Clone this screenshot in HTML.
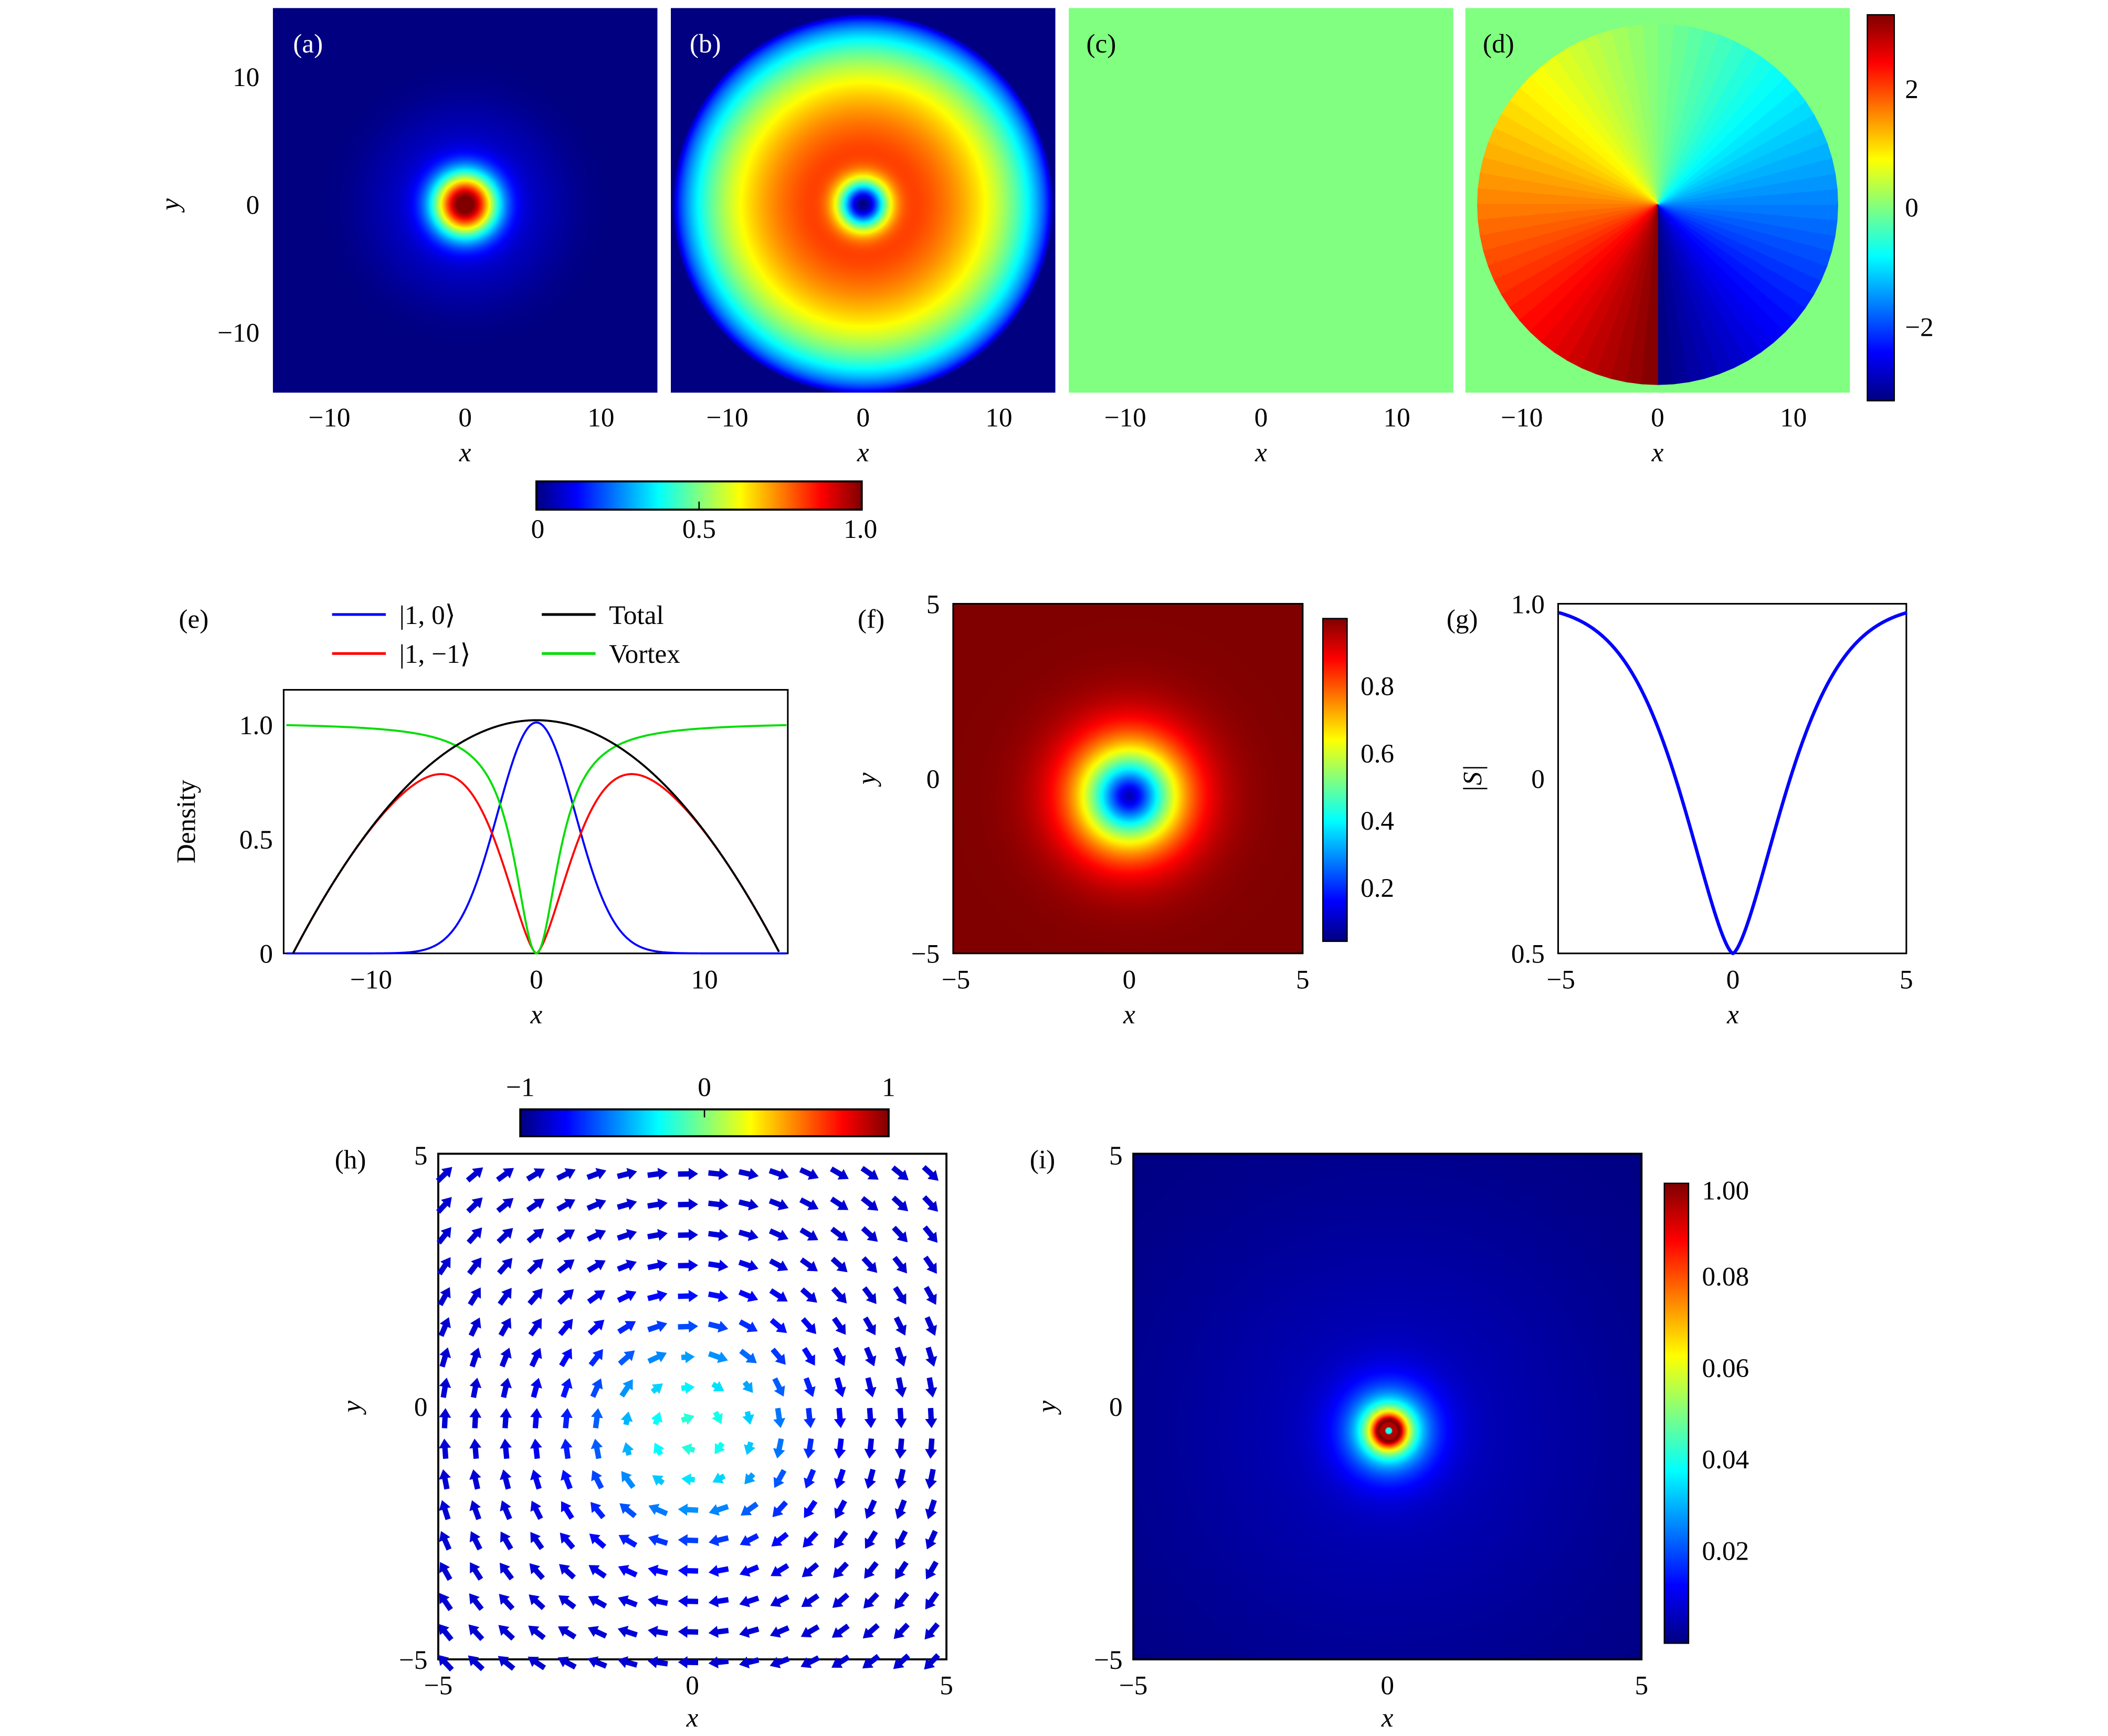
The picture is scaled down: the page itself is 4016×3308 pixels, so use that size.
<!DOCTYPE html>
<html><head><meta charset="utf-8">
<style>html,body{margin:0;padding:0;background:#fff}svg{display:block}
text{font-family:"Liberation Serif",serif;fill:#000}</style></head>
<body>
<svg id="s" xmlns="http://www.w3.org/2000/svg" width="4016" height="3308" viewBox="0 0 1568 1291" preserveAspectRatio="none">
<defs id="defs"></defs>
<g id="g"></g>
<g font-size="20">
<text x="218" y="39" style="fill:#fff">(a)</text>
<text x="513" y="39" style="fill:#fff">(b)</text>
<text x="808" y="39">(c)</text>
<text x="1103" y="39">(d)</text>
<g text-anchor="end"><text x="193" y="64">10</text><text x="193" y="159">0</text><text x="193" y="254">−10</text></g>
<text x="133" y="152" font-style="italic" transform="rotate(-90 133 152)" text-anchor="middle">y</text>
<g text-anchor="middle">
<text x="245" y="317">−10</text><text x="346" y="317">0</text><text x="447" y="317">10</text>
<text x="541" y="317">−10</text><text x="642" y="317">0</text><text x="743" y="317">10</text>
<text x="837" y="317">−10</text><text x="938" y="317">0</text><text x="1039" y="317">10</text>
<text x="1132" y="317">−10</text><text x="1233" y="317">0</text><text x="1334" y="317">10</text>
<text x="346" y="343" font-style="italic">x</text><text x="642" y="343" font-style="italic">x</text>
<text x="938" y="343" font-style="italic">x</text><text x="1233" y="343" font-style="italic">x</text>
<text x="400" y="400">0</text><text x="520" y="400">0.5</text><text x="640" y="400">1.0</text>
</g>
<text x="1417" y="73">2</text><text x="1417" y="161">0</text><text x="1417" y="250">−2</text>
<text x="133" y="467">(e)</text>
<line x1="247" y1="457" x2="287" y2="457" stroke="#00f" stroke-width="2"/><text x="297" y="464">|1, 0⟩</text>
<line x1="247" y1="486" x2="287" y2="486" stroke="#f00" stroke-width="2"/><text x="297" y="493">|1, −1⟩</text>
<line x1="403" y1="457" x2="443" y2="457" stroke="#000" stroke-width="2"/><text x="453" y="464">Total</text>
<line x1="403" y1="486" x2="443" y2="486" stroke="#0d0" stroke-width="2"/><text x="453" y="493">Vortex</text>
<g text-anchor="end"><text x="203" y="546">1.0</text><text x="203" y="631">0.5</text><text x="203" y="716">0</text></g>
<text x="145" y="611" transform="rotate(-90 145 611)" text-anchor="middle">Density</text>
<g text-anchor="middle"><text x="276" y="735">−10</text><text x="399" y="735">0</text><text x="524" y="735">10</text><text x="399" y="761" font-style="italic">x</text></g>
<text x="638" y="467">(f)</text>
<g text-anchor="end"><text x="699" y="456">5</text><text x="699" y="586">0</text><text x="699" y="716">−5</text></g>
<text x="651" y="579" font-style="italic" transform="rotate(-90 651 579)" text-anchor="middle">y</text>
<g text-anchor="middle"><text x="711" y="735">−5</text><text x="840" y="735">0</text><text x="969" y="735">5</text><text x="840" y="761" font-style="italic">x</text></g>
<text x="1012" y="517">0.8</text><text x="1012" y="567">0.6</text><text x="1012" y="617">0.4</text><text x="1012" y="667">0.2</text>
<text x="1076" y="467">(g)</text>
<g text-anchor="end"><text x="1149" y="456">1.0</text><text x="1149" y="586">0</text><text x="1149" y="716">0.5</text></g>
<text x="1102" y="579" font-style="italic" transform="rotate(-90 1102 579)" text-anchor="middle">|S|</text>
<g text-anchor="middle"><text x="1161" y="735">−5</text><text x="1289" y="735">0</text><text x="1418" y="735">5</text><text x="1289" y="761" font-style="italic">x</text></g>
<g text-anchor="middle"><text x="387" y="815">−1</text><text x="524" y="815">0</text><text x="661" y="815">1</text></g>
<text x="249" y="869">(h)</text>
<g text-anchor="end"><text x="318" y="866">5</text><text x="318" y="1053">0</text><text x="318" y="1241">−5</text></g>
<text x="268" y="1046" font-style="italic" transform="rotate(-90 268 1046)" text-anchor="middle">y</text>
<g text-anchor="middle"><text x="326" y="1260">−5</text><text x="515" y="1260">0</text><text x="704" y="1260">5</text><text x="515" y="1284" font-style="italic">x</text></g>
<text x="766" y="869">(i)</text>
<g text-anchor="end"><text x="835" y="866">5</text><text x="835" y="1053">0</text><text x="835" y="1241">−5</text></g>
<text x="785" y="1046" font-style="italic" transform="rotate(-90 785 1046)" text-anchor="middle">y</text>
<g text-anchor="middle"><text x="843" y="1260">−5</text><text x="1032" y="1260">0</text><text x="1221" y="1260">5</text><text x="1032" y="1284" font-style="italic">x</text></g>
<text x="1266" y="892">1.00</text><text x="1266" y="956">0.08</text><text x="1266" y="1024">0.06</text><text x="1266" y="1092">0.04</text><text x="1266" y="1160">0.02</text>
</g>
</svg>
<script>
var NS="http://www.w3.org/2000/svg",defs=document.getElementById('defs'),G=document.getElementById('g');
function cl(v){return Math.max(0,Math.min(1,v));}
function jet(t){t=cl(t);var r=cl(1.5-Math.abs(4*t-3)),g=cl(1.5-Math.abs(4*t-2)),b=cl(1.5-Math.abs(4*t-1));
return 'rgb('+Math.round(r*255)+','+Math.round(g*255)+','+Math.round(b*255)+')';}
function el(n,a,p){var e=document.createElementNS(NS,n);for(var k in a)e.setAttribute(k,a[k]);(p||G).appendChild(e);return e;}
var gid=0;
function radial(cx,cy,R,f,N){var id='r'+(gid++);var rg=el('radialGradient',{id:id,gradientUnits:'userSpaceOnUse',cx:cx,cy:cy,r:R},defs);
for(var i=0;i<=N;i++){var s=i/N;el('stop',{offset:s,'stop-color':jet(f(s*R))},rg);}return 'url(#'+id+')';}
function linear(x1,y1,x2,y2){var id='l'+(gid++);var lg=el('linearGradient',{id:id,gradientUnits:'userSpaceOnUse',x1:x1,y1:y1,x2:x2,y2:y2},defs);
for(var i=0;i<=40;i++)el('stop',{offset:i/40,'stop-color':jet(i/40)},lg);return 'url(#'+id+')';}
var u=10.1;
el('rect',{x:203,y:6,width:286,height:286,fill:radial(346,152,160,function(r){r/=u;return Math.exp(-Math.pow(r/2.3,2))+0.07*Math.exp(-Math.pow(r/7.5,4));},80)});
el('rect',{x:499,y:6,width:286,height:286,fill:radial(642,152,160,function(r){r/=u;var tf=1-Math.pow(r/14,2);if(tf<=0)return 0;return Math.pow(tf,0.6)*(1-Math.exp(-Math.pow(r/1.8,2)))*0.86;},120)});
el('rect',{x:795,y:6,width:286,height:286,fill:jet(0.5)});
el('rect',{x:1090,y:6,width:286,height:286,fill:jet(0.5)});
var cx=1233,cy=152,R=134,NW=72;
function pt(p){return (cx-R*Math.sin(p)).toFixed(2)+','+(cy-R*Math.cos(p)).toFixed(2);}
for(var i=0;i<NW;i++){var a0=-Math.PI+2*Math.PI*i/NW,a1=-Math.PI+2*Math.PI*(i+1)/NW,am=(a0+a1)/2;
var cc=jet((am+Math.PI)/(2*Math.PI));
el('path',{d:'M'+cx+','+cy+'L'+pt(a0)+'L'+pt(a1)+'Z',fill:cc,stroke:cc,'stroke-width':0.6});}
el('rect',{x:1389,y:11,width:20,height:287,fill:linear(0,298,0,11),stroke:'#000','stroke-width':1});
el('rect',{x:399,y:358,width:242,height:21,fill:linear(399,0,641,0),stroke:'#000','stroke-width':1.5});
el('line',{x1:520,y1:379,x2:520,y2:373,stroke:'#000'});
el('rect',{x:211,y:513,width:375,height:196,fill:'none',stroke:'#000','stroke-width':1.2});
function ep(fun){var d='';for(var i=0;i<=600;i++){var x=-15+30*i/600;var v=fun(x);if(v===null)continue;
var px=399+12.4*x,py=709-170*v;d+=(d?'L':'M')+px.toFixed(2)+','+py.toFixed(2);}return d;}
function tot(x){var v=1.02*(1-Math.pow(x/14.6,2));return v<0?null:v;}
el('path',{d:ep(function(x){return Math.exp(-Math.pow(x/3.3,2))*1.01;}),fill:'none',stroke:'#00f','stroke-width':1.5});
el('path',{d:ep(function(x){var t=tot(x);if(t===null)return null;return t*(1-Math.exp(-Math.pow(Math.abs(x)/3.2,1.5)));}),fill:'none',stroke:'#f00','stroke-width':1.5});
el('path',{d:ep(function(x){return x*x/(x*x+2.6)*1.01;}),fill:'none',stroke:'#0d0','stroke-width':1.5});
el('path',{d:ep(tot),fill:'none',stroke:'#000','stroke-width':1.5});
var uf=26;
el('rect',{x:709,y:449,width:260,height:260,fill:radial(840,592,200,function(r){r/=uf;return 1-0.95*Math.exp(-Math.pow(r/1.4,1.5));},100)});
el('rect',{x:709,y:449,width:260,height:260,fill:'none',stroke:'#000','stroke-width':1.2});
el('rect',{x:984,y:460,width:18,height:240,fill:linear(0,700,0,460),stroke:'#000','stroke-width':1});
el('rect',{x:1159,y:449,width:259,height:260,fill:'none',stroke:'#000','stroke-width':1.2});
(function(){var d='';for(var i=0;i<=400;i++){var x=-5+10*i/400;var f=1-Math.exp(-Math.pow(Math.abs(x)/2.1,1.5));
d+=(d?'L':'M')+(1289+25.9*x).toFixed(2)+','+(709-260*f).toFixed(2);}el('path',{d:d,fill:'none',stroke:'#00f','stroke-width':2.5});})();
el('rect',{x:387,y:825,width:274,height:20,fill:linear(387,0,661,0),stroke:'#000','stroke-width':1.5});
el('line',{x1:524,y1:825,x2:524,y2:831,stroke:'#000'});
el('rect',{x:326,y:858,width:378,height:376,fill:'#fff',stroke:'#000','stroke-width':1.5});
var uh=37.8,vx=515,vy=1064;
for(var r=0;r<17;r++)for(var c=0;c<17;c++){var px=331+c*22.6,py=873+r*22.7;
var dx=(px-vx)/uh,dy=(py-vy)/uh,rr=Math.sqrt(dx*dx+dy*dy)+1e-6;
var tx=-dy/rr,ty=dx/rr;
var col=jet(0.08+0.34*Math.exp(-Math.pow(rr/2.0,2)));
var L=rr<1.5?10:15;
var x1=px-tx*L/2,y1=py-ty*L/2,x2=px+tx*L/2,y2=py+ty*L/2;
el('line',{x1:x1,y1:y1,x2:x2-tx*4,y2:y2-ty*4,stroke:col,'stroke-width':4});
var nx=-ty,ny=tx;
el('polygon',{points:x2+','+y2+' '+(x2-tx*7+nx*4.5)+','+(y2-ty*7+ny*4.5)+' '+(x2-tx*7-nx*4.5)+','+(y2-ty*7-ny*4.5),fill:col});}
el('rect',{x:843,y:858,width:378,height:376,fill:radial(1033,1064,260,function(r){r/=37.8;
if(r<0.06)return 0.4;if(r<0.18)return 0.95;return 0.9*Math.exp(-(r-0.18)/0.25)+0.2*Math.exp(-Math.pow(r/1.0,2))+0.06*Math.exp(-Math.pow(r/4.5,2));},260)});
el('rect',{x:843,y:858,width:378,height:376,fill:'none',stroke:'#000','stroke-width':1.5});
el('rect',{x:1238,y:880,width:18,height:342,fill:linear(0,1222,0,880),stroke:'#000','stroke-width':1});
</script>
</body></html>
